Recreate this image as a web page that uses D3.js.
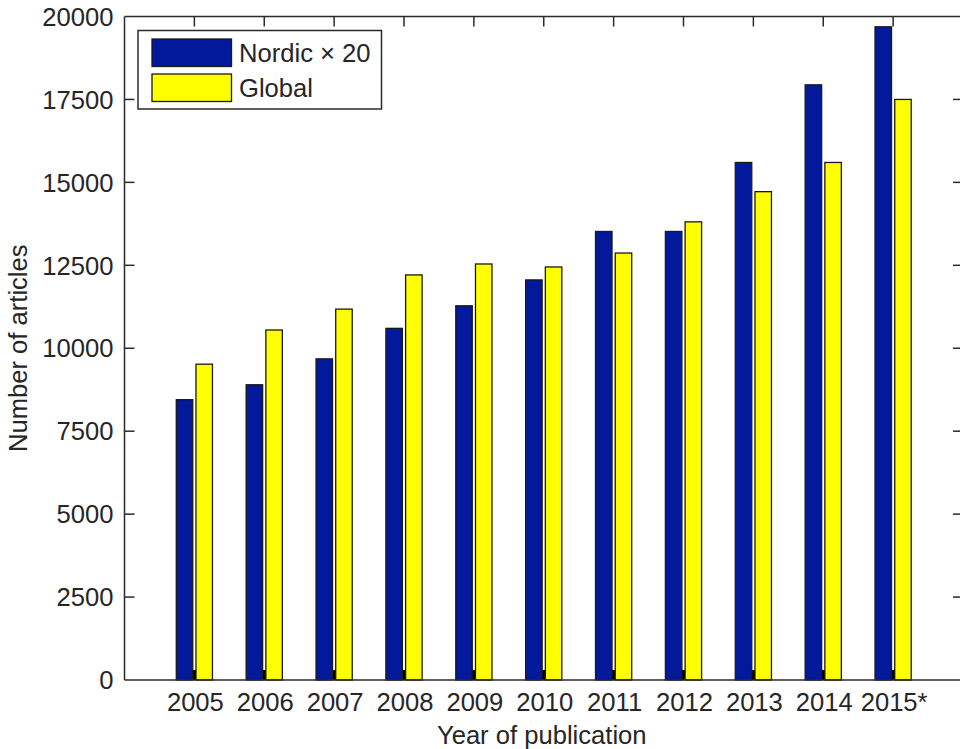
<!DOCTYPE html>
<html>
<head>
<meta charset="utf-8">
<script src="https://cdn.jsdelivr.net/npm/d3@7"></script>
<style>
  html, body { margin: 0; padding: 0; background: #fff; }
  svg { display: block; font-family: "Liberation Sans", Arial, Helvetica, sans-serif; }
</style>
</head>
<body>
<svg id="chart" width="960" height="749"></svg>
<script>
// Publication counts per year
const years = ["2005", "2006", "2007", "2008", "2009", "2010", "2011", "2012", "2013", "2014", "2015*"];
const nordicX20 = [8450, 8900, 9680, 10600, 11280, 12060, 13520, 13520, 15600, 17940, 19690];
const globalCounts = [9520, 10550, 11180, 12210, 12540, 12450, 12870, 13810, 14720, 15600, 17500];
const yTicks = [0, 2500, 5000, 7500, 10000, 12500, 15000, 17500, 20000];
const seriesNames = ["Nordic \u00d7 20", "Global"];
const seriesColors = ["#03199b", "#ffff00"];

const svg = d3.select("#chart");
const plot = { left: 124.5, right: 963, top: 16.5, bottom: 680 };

// Category positions 1..n on a numeric axis spanning 0..n+1
const x = d3.scaleLinear().domain([0, years.length + 1]).range([plot.left, plot.right]);
const y = d3.scaleLinear().domain([0, 20000]).range([plot.bottom, plot.top]);

const axisColor = "#2a2a2a";
const textColor = "#262626";
const fontSize = 25.6;
const tickLen = 10;

const barOffset = 0.141;   // half distance between the two bars of a group, in category units
const barWidth = 0.236;    // bar width, in category units
const bw = x(barWidth) - x(0);

// Bottom ticks sit underneath the bars and show through the gap between them
svg.append("g").selectAll("line").data(years).join("line")
  .attr("x1", (d, i) => x(i + 1)).attr("x2", (d, i) => x(i + 1))
  .attr("y1", plot.bottom).attr("y2", plot.bottom - tickLen)
  .attr("stroke", "#000").attr("stroke-width", 4);

const series = [nordicX20, globalCounts];
series.forEach((vals, s) => {
  const off = s === 0 ? -barOffset : barOffset;
  svg.append("g").selectAll("rect").data(vals).join("rect")
    .attr("x", (d, i) => x(i + 1 + off) - bw / 2)
    .attr("y", d => y(d))
    .attr("width", bw)
    .attr("height", d => y(0) - y(d))
    .attr("fill", seriesColors[s])
    .attr("stroke", "#1a1a1a")
    .attr("stroke-width", 1.3);
});

// Axes box
const axes = svg.append("g").attr("fill", "none").attr("stroke", axisColor).attr("stroke-width", 1.5);
axes.append("line").attr("x1", plot.left).attr("x2", plot.right).attr("y1", plot.bottom).attr("y2", plot.bottom);
axes.append("line").attr("x1", plot.left).attr("x2", plot.right).attr("y1", plot.top).attr("y2", plot.top);
axes.append("line").attr("x1", plot.left).attr("x2", plot.left).attr("y1", plot.top).attr("y2", plot.bottom);
axes.append("line").attr("x1", plot.right).attr("x2", plot.right).attr("y1", plot.top).attr("y2", plot.bottom);

// Y ticks on left and right edges
const yInner = yTicks.filter(t => t > 0 && t < 20000);
axes.selectAll(".yl").data(yInner).join("line")
  .attr("x1", plot.left).attr("x2", plot.left + tickLen)
  .attr("y1", d => y(d)).attr("y2", d => y(d));
axes.selectAll(".yr").data(yInner).join("line")
  .attr("x1", plot.right).attr("x2", plot.right - tickLen)
  .attr("y1", d => y(d)).attr("y2", d => y(d));
// Category ticks along the top edge
axes.selectAll(".xt").data(years).join("line")
  .attr("x1", (d, i) => x(i + 1)).attr("x2", (d, i) => x(i + 1))
  .attr("y1", plot.top).attr("y2", plot.top + tickLen);

// Tick labels
svg.append("g").selectAll("text").data(yTicks).join("text")
  .attr("x", plot.left - 11)
  .attr("y", d => y(d))
  .attr("dy", "0.36em")
  .attr("text-anchor", "end")
  .attr("font-size", fontSize)
  .attr("fill", textColor)
  .text(d => d);

svg.append("g").selectAll("text").data(years).join("text")
  .attr("x", (d, i) => x(i + 1) + 1)
  .attr("y", plot.bottom + 31)
  .attr("text-anchor", "middle")
  .attr("font-size", fontSize)
  .attr("fill", textColor)
  .text(d => d);

// Axis titles
svg.append("text")
  .attr("x", (plot.left + plot.right) / 2 - 2)
  .attr("y", 744)
  .attr("text-anchor", "middle")
  .attr("font-size", fontSize)
  .attr("fill", textColor)
  .text("Year of publication");

svg.append("text")
  .attr("transform", `translate(27, ${(plot.top + plot.bottom) / 2}) rotate(-90)`)
  .attr("text-anchor", "middle")
  .attr("font-size", fontSize)
  .attr("fill", textColor)
  .text("Number of articles");

// Legend
const lg = svg.append("g");
lg.append("rect")
  .attr("x", 138).attr("y", 30.5).attr("width", 243.5).attr("height", 78.5)
  .attr("fill", "#fff").attr("stroke", axisColor).attr("stroke-width", 1.5);
seriesNames.forEach((name, i) => {
  const top = 39 + i * 35;
  lg.append("rect")
    .attr("x", 152).attr("y", top).attr("width", 79.5).attr("height", 27.5)
    .attr("fill", seriesColors[i]).attr("stroke", "#1a1a1a").attr("stroke-width", 1.3);
  lg.append("text")
    .attr("x", 239).attr("y", top + 22.5)
    .attr("font-size", fontSize)
    .attr("fill", textColor)
    .text(name);
});
</script>
</body>
</html>
